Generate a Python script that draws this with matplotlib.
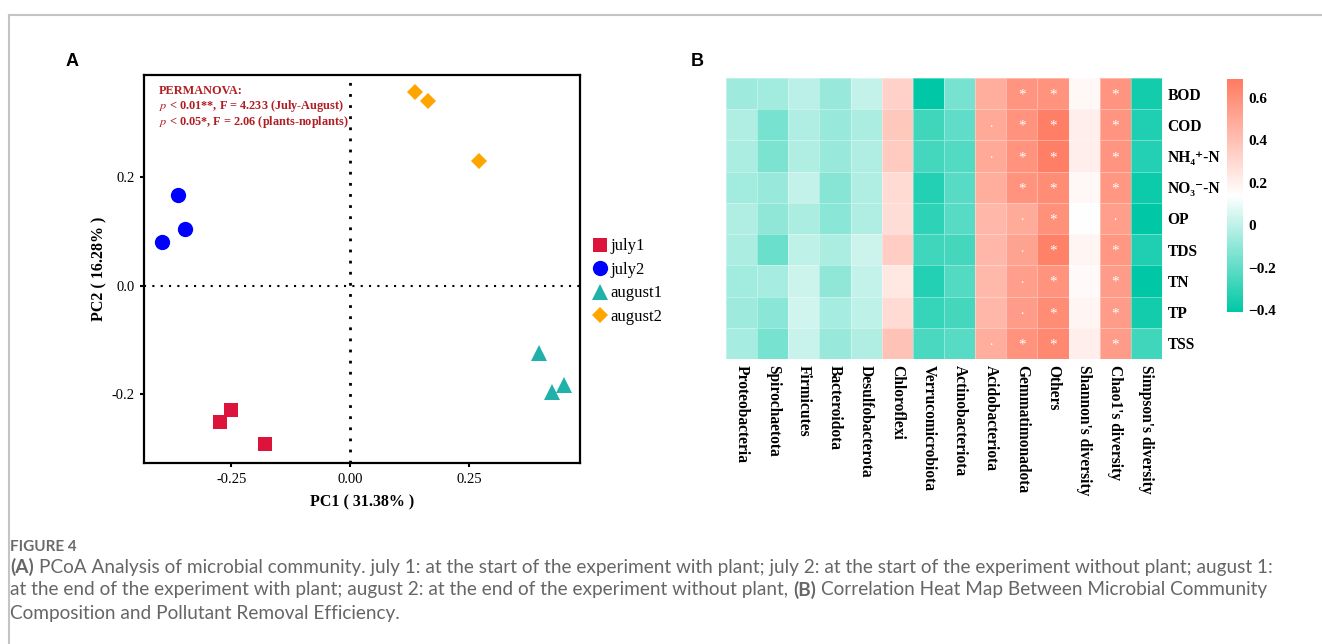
import matplotlib
matplotlib.use("Agg")
import matplotlib.pyplot as plt
import numpy as np
from matplotlib.colors import LinearSegmentedColormap, Normalize
from matplotlib.lines import Line2D

plt.rcParams["font.family"] = ["Liberation Serif", "DejaVu Serif"]
plt.rcParams["mathtext.fontset"] = "stix"
plt.rcParams["axes.unicode_minus"] = False

# ---- Panel A: PCoA scores ----
groups = ["july1", "july2", "august1", "august2"]
pc1 = [
    [-0.274, -0.251, -0.179],   # july1
    [-0.361, -0.348, -0.395],   # july2
    [0.395, 0.424, 0.449],      # august1
    [0.135, 0.162, 0.270],      # august2
]
pc2 = [
    [-0.251, -0.229, -0.292],
    [0.167, 0.104, 0.080],
    [-0.125, -0.196, -0.183],
    [0.357, 0.340, 0.229],
]
group_colors = ["#dc143c", "#0000ff", "#20b2aa", "#ffa500"]
group_markers = ["s", "o", "^", "D"]
group_sizes = [10, 11, 12, 8]

x_ticks = [-0.25, 0.0, 0.25]
x_tick_labels = ["-0.25", "0.00", "0.25"]
y_ticks = [-0.2, 0.0, 0.2]
y_tick_labels = ["-0.2", "0.0", "0.2"]

# ---- Panel B: correlation heat map ----
taxa = ["Proteobacteria", "Spirochaetota", "Firmicutes", "Bacteroidota",
        "Desulfobacterota", "Chloroflexi", "Verrucomicrobiota",
        "Actinobacteriota", "Acidobacteriota", "Gemmatimonadota", "Others",
        "Shannon's diversity", "Chao1's diversity", "Simpson's diversity"]
factors = ["BOD", "COD", "NH\u2084\u207a-N", "NO\u2083\u207b-N",
           "OP", "TDS", "TN", "TP", "TSS"]
# one row per taxon, columns follow factors
corr = [
    [-0.07, -0.03, -0.04, -0.06, -0.03, -0.04, -0.06, -0.07, -0.05],
    [-0.06, -0.15, -0.14, -0.08, -0.10, -0.18, -0.05, -0.11, -0.15],
    [-0.01, -0.03, -0.03, 0.01, -0.04, 0.00, 0.03, 0.04, 0.02],
    [-0.08, -0.08, -0.08, -0.12, -0.11, -0.04, -0.10, -0.05, -0.08],
    [0.01, -0.04, -0.03, -0.03, -0.03, 0.03, 0.01, 0.00, -0.03],
    [0.33, 0.37, 0.36, 0.29, 0.28, 0.35, 0.24, 0.29, 0.39],
    [-0.41, -0.27, -0.26, -0.33, -0.31, -0.27, -0.33, -0.29, -0.25],
    [-0.15, -0.20, -0.23, -0.22, -0.22, -0.26, -0.23, -0.26, -0.22],
    [0.48, 0.50, 0.50, 0.48, 0.44, 0.44, 0.43, 0.44, 0.48],
    [0.58, 0.59, 0.59, 0.59, 0.49, 0.52, 0.54, 0.55, 0.59],
    [0.59, 0.67, 0.67, 0.62, 0.60, 0.66, 0.59, 0.62, 0.63],
    [0.17, 0.21, 0.21, 0.17, 0.14, 0.18, 0.16, 0.18, 0.21],
    [0.58, 0.58, 0.58, 0.57, 0.54, 0.57, 0.55, 0.55, 0.55],
    [-0.37, -0.34, -0.33, -0.38, -0.41, -0.34, -0.41, -0.37, -0.27],
]
signif = [
    [""] * 9, [""] * 9, [""] * 9, [""] * 9, [""] * 9, [""] * 9, [""] * 9, [""] * 9,
    ["", ".", ".", "", "", "", "", "", "."],
    ["*", "*", "*", "*", ".", ".", ".", ".", "*"],
    ["*"] * 9,
    [""] * 9,
    ["*", "*", "*", "*", ".", "*", "*", "*", "*"],
    [""] * 9,
]
cbar_ticks = [-0.4, -0.2, 0.0, 0.2, 0.4, 0.6]
cbar_labels = ["\u22120.4", "\u22120.2", "0", "0.2", "0.4", "0.6"]

fig = plt.figure(figsize=(13.22, 6.44), dpi=100)
W, H = 1322, 644


def fx(px):
    return px / W


def fy(py):
    return 1 - py / H


# frame of the figure box
fig.add_artist(Line2D([fx(9), 1], [fy(15), fy(15)], color="#c4c4c4", lw=1.5))
fig.add_artist(Line2D([fx(9), fx(9)], [fy(15), 0], color="#c4c4c4", lw=1.5))

# ---------------- Panel A ----------------
ax = fig.add_axes([fx(144), fy(463), fx(580) - fx(144), fy(75) - fy(463)])
for g, xs, ys, c, m, s in zip(groups, pc1, pc2, group_colors, group_markers, group_sizes):
    ax.plot(xs, ys, linestyle="none", marker=m, color=c, markersize=s,
            markeredgewidth=0, label=g)
ax.axvline(0, color="black", linestyle=(0, (1, 3)), lw=2, zorder=0)
ax.axhline(0, color="black", linestyle=(0, (1, 3)), lw=1.5, zorder=0)
ax.set_xlim(-0.433, 0.482)
ax.set_ylim(-0.327, 0.388)
ax.set_xticks(x_ticks)
ax.set_xticklabels(x_tick_labels)
ax.set_yticks(y_ticks)
ax.set_yticklabels(y_tick_labels)
ax.tick_params(labelsize=10.5, length=3, width=1.5, direction="out", pad=4)
for sp in ax.spines.values():
    sp.set_linewidth(1.6)
ax.set_xlabel("PC1 ( 31.38% )", fontsize=11.5, fontweight="bold", labelpad=6)
ax.set_ylabel("PC2 ( 16.28% )", fontsize=11.5, fontweight="bold", labelpad=3)

perm_color = "#b01e24"
perm_lines = ["PERMANOVA:",
              r"$p$ < 0.01**, F = 4.233 (July-August)",
              r"$p$ < 0.05*, F = 2.06 (plants-noplants)"]
for k, line in enumerate(perm_lines):
    ax.text(0.035, 0.96 - 0.04 * k, line, transform=ax.transAxes, color=perm_color,
            fontsize=8.8, fontweight="bold", va="center")

fig.legend(loc="upper left", bbox_to_anchor=(fx(582), fy(230)), frameon=False,
           fontsize=12, handletextpad=0.0, labelspacing=0.45, handlelength=1.2,
           borderpad=0)

fig.text(fx(66), fy(62), "A", fontsize=13, fontweight="bold",
         family="Liberation Sans", va="center")
fig.text(fx(691), fy(62), "B", fontsize=13, fontweight="bold",
         family="Liberation Sans", va="center")

# ---------------- Panel B ----------------
cmap = LinearSegmentedColormap.from_list("tw", ["#00c8a6", "#ffffff", "#ff7b61"])
norm = Normalize(vmin=-0.41, vmax=0.69)
data = np.array(corr).T
axh = fig.add_axes([fx(726), fy(359), fx(1162) - fx(726), fy(78) - fy(359)])
mesh = axh.pcolormesh(data, cmap=cmap, norm=norm, edgecolors=(1, 1, 1, 0.35),
                      linewidth=0.4)
axh.set_xlim(0, len(taxa))
axh.set_ylim(len(factors), 0)
for i in range(len(taxa)):
    for j in range(len(factors)):
        mark = signif[i][j]
        if mark == "*":
            axh.text(i + 0.5, j + 0.55, mark, ha="center", va="center",
                     color="white", fontsize=11)
        elif mark:
            axh.text(i + 0.5, j + 0.45, mark, ha="center", va="center",
                     color="white", fontsize=10)
axh.set_xticks(np.arange(len(taxa)) + 0.5)
axh.set_xticklabels(taxa, rotation=-90, fontsize=11.2, fontweight="bold",
                    va="top", ha="center")
axh.yaxis.tick_right()
axh.set_yticks(np.arange(len(factors)) + 0.5)
axh.set_yticklabels(factors, fontsize=11.2, fontweight="bold")
axh.tick_params(length=0, pad=4)
for sp in axh.spines.values():
    sp.set_visible(False)

cax = fig.add_axes([fx(1227), fy(312), fx(1243) - fx(1227), fy(79) - fy(312)])
cb = fig.colorbar(mesh, cax=cax, ticks=cbar_ticks)
cb.ax.set_yticklabels(cbar_labels, fontsize=11, fontweight="bold")
cb.ax.tick_params(length=0, pad=4)
cb.outline.set_visible(False)

# ---------------- caption ----------------
cap_font = "Lato"
cap_color = "#666666"
cap_size = 13.7
fig.text(fx(10), fy(547), "FIGURE 4", family=cap_font, fontsize=11,
         fontweight="bold", color="#6a6a6a", va="center")

caption_lines = [
    [("(A)", "bold"), ("PCoA Analysis of microbial community. july 1: at the start of the "
                      "experiment with plant; july 2: at the start of the experiment without "
                      "plant; august 1:", "normal")],
    [("at the end of the experiment with plant; august 2: at the end of the experiment "
      "without plant,", "normal"), ("(B)", "bold"),
     ("Correlation Heat Map Between Microbial Community", "normal")],
    [("Composition and Pollutant Removal Efficiency.", "normal")],
]
caption_y = [567, 590, 613]

renderer = fig.canvas.get_renderer()
probe1 = fig.text(0, 0, "x x", family=cap_font, fontsize=cap_size)
probe2 = fig.text(0, 0, "xx", family=cap_font, fontsize=cap_size)
space_w = (probe1.get_window_extent(renderer).width
           - probe2.get_window_extent(renderer).width) / fig.bbox.width
probe1.remove()
probe2.remove()

for runs, py in zip(caption_lines, caption_y):
    x = fx(10)
    for s, w in runs:
        t = fig.text(x, fy(py), s, family=cap_font, fontsize=cap_size,
                     fontweight=w, color=cap_color, va="center")
        x += t.get_window_extent(renderer).width / fig.bbox.width + space_w

fig.savefig("out.png", dpi=100)
